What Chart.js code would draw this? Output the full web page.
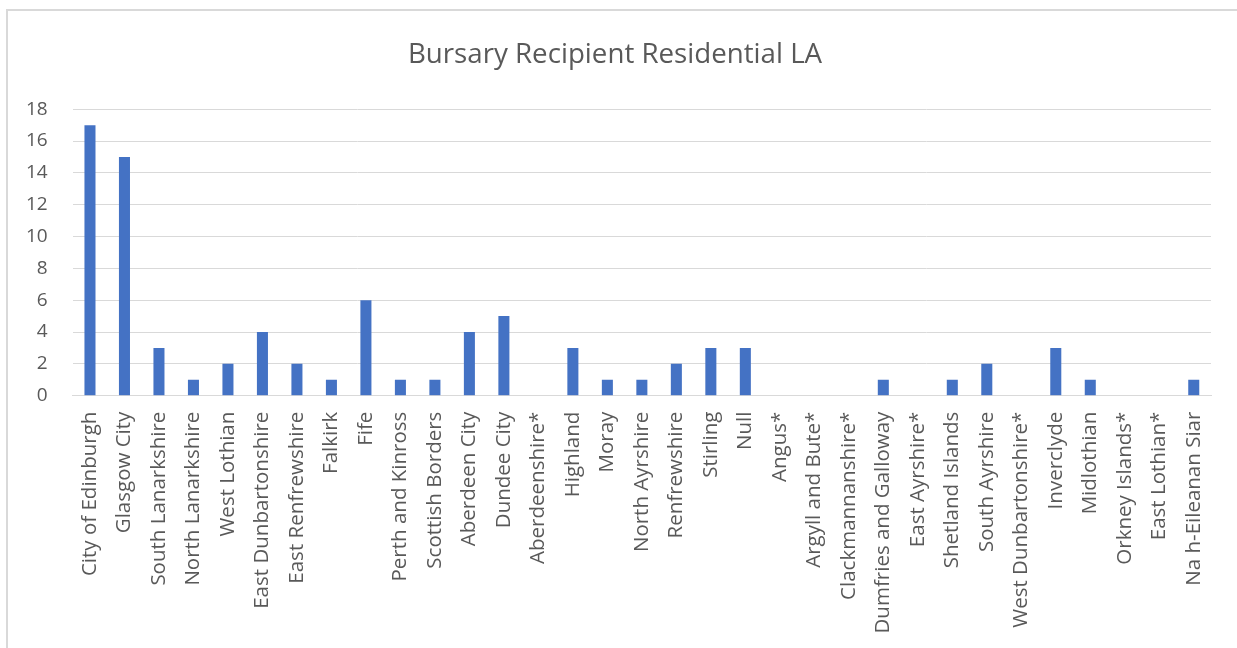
<!DOCTYPE html>
<html>
<head>
<meta charset="utf-8">
<script src="https://cdn.jsdelivr.net/npm/chart.js@4"></script>
<style>
	html, body { margin: 0; padding: 0; background: #fff; overflow: hidden; }
	#frame { position: absolute; left: 6px; top: 9px; width: 1240px; height: 650px;
		border-left: 2px solid #d9d9d9; border-top: 2px solid #d9d9d9; pointer-events: none; }
	#wrap { position: absolute; left: 0; top: 0; width: 1237px; height: 648px; }
</style>
</head>
<body>
<div id="wrap"><canvas id="barChart" width="1237" height="648"></canvas></div>
<div id="frame"></div>
<script>
// chart data
const chartTitle = 'Bursary Recipient Residential LA';

const areas = [
	'City of Edinburgh', 'Glasgow City', 'South Lanarkshire', 'North Lanarkshire',
	'West Lothian', 'East Dunbartonshire', 'East Renfrewshire', 'Falkirk', 'Fife',
	'Perth and Kinross', 'Scottish Borders', 'Aberdeen City', 'Dundee City',
	'Aberdeenshire*', 'Highland', 'Moray', 'North Ayrshire', 'Renfrewshire',
	'Stirling', 'Null', 'Angus*', 'Argyll and Bute*', 'Clackmannanshire*',
	'Dumfries and Galloway', 'East Ayrshire*', 'Shetland Islands', 'South Ayrshire',
	'West Dunbartonshire*', 'Inverclyde', 'Midlothian', 'Orkney Islands*',
	'East Lothian*', 'Na h-Eileanan Siar'
];

const recipients = [17, 15, 3, 1, 2, 4, 2, 1, 6, 1, 1, 4, 5, 0, 3, 1, 1, 2, 3, 3,
	0, 0, 0, 1, 0, 1, 2, 0, 3, 1, 0, 0, 1];

const yTicks = [0, 2, 4, 6, 8, 10, 12, 14, 16, 18];

const textColor = '#595959';
const fontName = "'Open Sans', 'Liberation Sans', sans-serif";

const ctx = document.getElementById('barChart').getContext('2d');

const chart = new Chart(ctx, {
	type: 'bar',
	data: {
		labels: areas,
		datasets: [{
			label: 'Count',
			data: recipients,
			backgroundColor: '#4472c4',
			borderWidth: 0,
			categoryPercentage: 1.0,
			barPercentage: 0.32
		}]
	},
	options: {
		responsive: false,
		animation: false,
		layout: {
			padding: { left: 19, right: 26, top: 38, bottom: 6.5 }
		},
		plugins: {
			legend: { display: false },
			tooltip: { enabled: false },
			title: {
				display: true,
				text: chartTitle,
				color: textColor,
				font: { family: fontName, size: 27.7, weight: 'normal' },
				padding: { top: 0, bottom: 38 }
			}
		},
		scales: {
			x: {
				grid: { display: false },
				border: { display: true, color: '#d9d9d9', width: 1 },
				ticks: {
					color: textColor,
					font: { family: fontName, size: 20.5 },
					maxRotation: 90,
					minRotation: 90,
					autoSkip: false,
					padding: 8
				}
			},
			y: {
				min: 0,
				max: 18,
				afterBuildTicks: (axis) => {
					axis.ticks = yTicks.map(v => ({ value: v }));
				},
				// keep the plot where it was while the title centres on the frame
				afterFit: (axis) => {
					axis.width -= 18;
				},
				grid: { color: '#d9d9d9', lineWidth: 1, drawTicks: false },
				border: { display: false },
				ticks: {
					color: textColor,
					font: { family: fontName, size: 19 },
					padding: 25
				}
			}
		}
	}
});
</script>
</body>
</html>
